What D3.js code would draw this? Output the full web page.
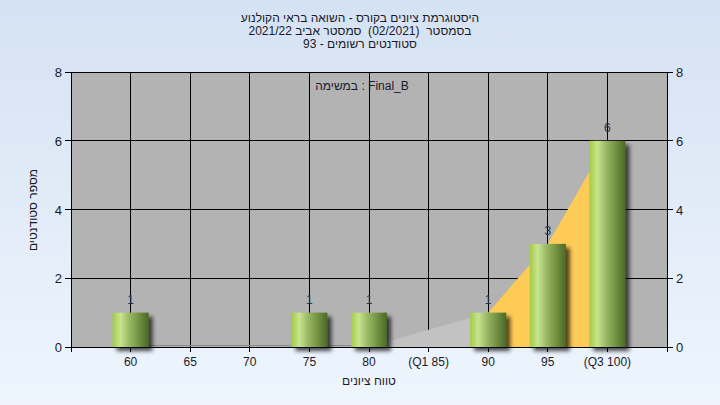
<!DOCTYPE html>
<html><head><meta charset="utf-8">
<script src="https://cdn.jsdelivr.net/npm/d3@7"></script>
<style>body{margin:0;padding:0;overflow:hidden}svg{display:block}text{font-family:"Liberation Sans",Arial,sans-serif;white-space:pre}</style>
</head><body>
<script>
const categories = ["60","65","70","75","80","(Q1 85)","90","95","(Q3 100)"];
const counts = [1,0,0,1,1,0,1,3,6];
const areaValues = [0,0,0,0,0,0.5,1,3,6];
const yTicks = [0,2,4,6,8];
const titleLines = ["היסטוגרמת ציונים בקורס - השואה בראי הקולנוע","בסמסטר  (02/2021)  סמסטר אביב 2021/22","סטודנטים רשומים - 93"];
const legendText = "במשימה : Final_B";
const xTitle = "טווח ציונים";
const yTitle = "מספר סטודנטים";

const W=720,H=405;
const m={l:71,r:53,t:72,b:58};
const svg=d3.select("body").append("svg").attr("width",W).attr("height",H);
const defs=svg.append("defs");
const bg=defs.append("linearGradient").attr("id","bg").attr("x1",0).attr("y1",0).attr("x2",0).attr("y2",1);
bg.append("stop").attr("offset","0%").attr("stop-color","#d5e2f3");
bg.append("stop").attr("offset","100%").attr("stop-color","#eef5fd");
const bar=defs.append("linearGradient").attr("id","bar").attr("x1",0).attr("y1",0).attr("x2",1).attr("y2",0);
[["0%","#a2cc44"],["22%","#c8e48e"],["45%","#9cba68"],["75%","#6f8f40"],["100%","#4a6827"]].forEach(s=>bar.append("stop").attr("offset",s[0]).attr("stop-color",s[1]));
const f=defs.append("filter").attr("id","sh").attr("x","-20%").attr("y","-20%").attr("width","160%").attr("height","160%");
f.append("feGaussianBlur").attr("in","SourceAlpha").attr("stdDeviation",2).attr("result","b");
f.append("feOffset").attr("in","b").attr("dx",4).attr("dy",4).attr("result","o");
f.append("feComponentTransfer").attr("in","o").attr("result","oc").append("feFuncA").attr("type","linear").attr("slope",0.7);
const fm=f.append("feMerge");fm.append("feMergeNode").attr("in","oc");fm.append("feMergeNode").attr("in","SourceGraphic");

svg.append("rect").attr("width",W).attr("height",H).attr("fill","url(#bg)");

const x=d3.scalePoint().domain(categories).range([m.l,W-m.r]).padding(1);
const y=d3.scaleLinear().domain([0,8]).range([H-m.b,m.t]);
const x0=m.l,x1=W-m.r,y0=H-m.b,y1=m.t;

svg.append("rect").attr("x",x0).attr("y",y1).attr("width",x1-x0).attr("height",y0-y1).attr("fill","#b3b3b3");

// grid
svg.append("g").selectAll("line").data(yTicks).join("line")
 .attr("x1",x0).attr("x2",x1).attr("y1",d=>y(d)).attr("y2",d=>y(d)).attr("stroke","#000").attr("shape-rendering","crispEdges");
svg.append("g").selectAll("line").data(categories).join("line")
 .attr("x1",d=>x(d)).attr("x2",d=>x(d)).attr("y1",y1).attr("y2",y0).attr("stroke","#000").attr("shape-rendering","crispEdges");

// areas
const pts=categories.map((c,i)=>[x(c),areaValues[i]]);
const area=d3.area().x(d=>d[0]).y0(y(0)).y1(d=>y(d[1]));
svg.append("path").datum(pts.slice(0,7)).attr("d",area).attr("fill","#c2c2c2");
svg.append("path").datum(pts.slice(6)).attr("d",area).attr("fill","#fecb57");
svg.append("line").attr("x1",x(categories[0])).attr("x2",x(categories[4])).attr("y1",y(0)-1.5).attr("y2",y(0)-1.5).attr("stroke","#8a8a8a");

// bars
const bw=36;
const bd=categories.map((c,i)=>({c,v:counts[i]})).filter(d=>d.v>0);
svg.append("g").selectAll("rect").data(bd).join("rect")
 .attr("x",d=>x(d.c)-bw/2).attr("width",bw).attr("y",d=>y(d.v)).attr("height",d=>y(0)-y(d.v))
 .attr("fill","url(#bar)").attr("filter","url(#sh)");
svg.append("g").selectAll("text").data(bd).join("text")
 .attr("x",d=>x(d.c)).attr("y",d=>y(d.v)-9).attr("text-anchor","middle").attr("font-size",12).attr("fill","#1d3352").text(d=>d.v);

// axes
const ax=svg.append("g").attr("stroke","#000").attr("shape-rendering","crispEdges");
ax.append("line").attr("x1",x0).attr("x2",x0).attr("y1",y1).attr("y2",y0+5);
ax.append("line").attr("x1",x1).attr("x2",x1).attr("y1",y1).attr("y2",y0+5);
ax.append("line").attr("x1",x0-3).attr("x2",x1+3).attr("y1",y0).attr("y2",y0);
yTicks.forEach(t=>{
 ax.append("line").attr("x1",x0-6).attr("x2",x0).attr("y1",y(t)).attr("y2",y(t));
 ax.append("line").attr("x1",x1).attr("x2",x1+6).attr("y1",y(t)).attr("y2",y(t));
});
categories.forEach(c=>ax.append("line").attr("x1",x(c)).attr("x2",x(c)).attr("y1",y0).attr("y2",y0+5));

const lab=svg.append("g").attr("font-size",13).attr("fill","#1a1a2a");
lab.selectAll(".yl").data(yTicks).join("text").attr("x",x0-9).attr("y",d=>y(d)+5).attr("text-anchor","end").text(d=>d);
lab.selectAll(".yr").data(yTicks).join("text").attr("x",x1+9).attr("y",d=>y(d)+5).attr("text-anchor","start").text(d=>d);
svg.append("g").attr("font-size",12).attr("fill","#1a1a2a").selectAll("text").data(categories).join("text")
 .attr("x",d=>x(d)).attr("y",y0+19).attr("text-anchor","middle").text(d=>d);

// titles
svg.append("g").selectAll("text").data(titleLines).join("text")
 .attr("x",360).attr("y",(d,i)=>22+i*13).attr("text-anchor","middle").attr("direction","rtl").style("unicode-bidi","plaintext")
 .attr("font-size",12).attr("fill","#1a1a2a").text(d=>d);
svg.append("text").attr("x",362).attr("y",90).attr("text-anchor","middle").attr("direction","ltr").attr("font-size",12).attr("fill","#1a1a2a").text(legendText);
svg.append("text").attr("x",369).attr("y",385).attr("text-anchor","middle").attr("direction","rtl").attr("font-size",12).attr("fill","#1a1a2a").text(xTitle);
svg.append("text").attr("transform","translate(37,210) rotate(-90)").attr("text-anchor","middle").attr("direction","rtl").attr("font-size",12).attr("fill","#1a1a2a").text(yTitle);
</script>
</body></html>
